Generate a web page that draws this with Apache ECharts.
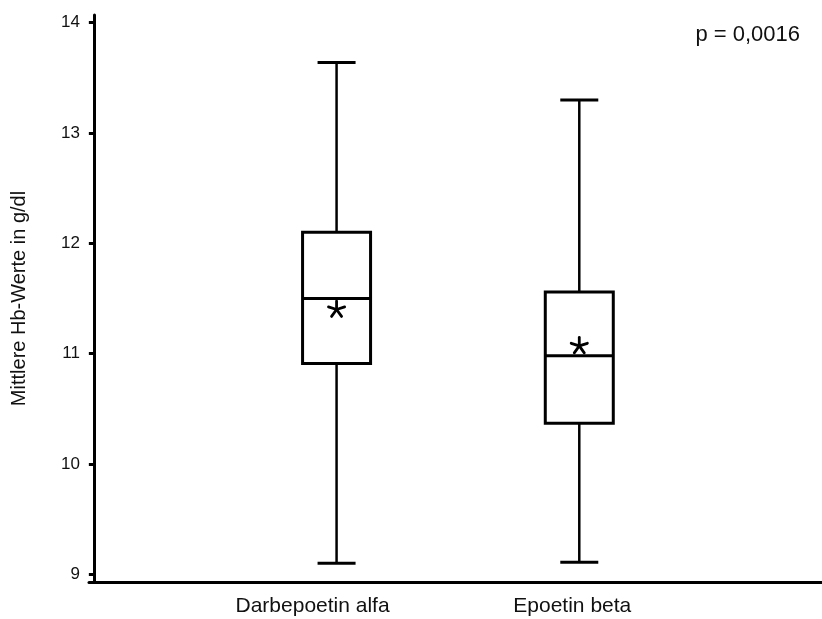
<!DOCTYPE html>
<html>
<head>
<meta charset="utf-8">
<script src="https://cdn.jsdelivr.net/npm/echarts@6/dist/echarts.min.js"></script>
<style>
html,body{margin:0;padding:0;background:#fff;}
#chart{width:822px;height:619px;}
</style>
</head>
<body>
<div id="chart"></div>
<script>
const categories = ['Darbepoetin alfa', 'Epoetin beta'];
const positions = [1, 2];
const minValues = [9.10, 9.11];
const q1Values = [10.91, 10.37];
const medianValues = [11.50, 10.98];
const q3Values = [12.10, 11.56];
const maxValues = [13.64, 13.30];
const meanValues = [11.40, 11.07];
const yTicks = [9, 10, 11, 12, 13, 14];
const pText = 'p = 0,0016';

const FONT = '"Liberation Sans", Arial, Helvetica, sans-serif';

const data = categories.map((c, i) => [positions[i], minValues[i], q1Values[i], medianValues[i], q3Values[i], maxValues[i], meanValues[i]]);

function renderItem(params, api) {
  const x = api.value(0);
  const pMin = api.coord([x, api.value(1)]);
  const pQ1 = api.coord([x, api.value(2)]);
  const pMed = api.coord([x, api.value(3)]);
  const pQ3 = api.coord([x, api.value(4)]);
  const pMax = api.coord([x, api.value(5)]);
  const pMean = api.coord([x, api.value(6)]);
  const cx = pMed[0];
  const hw = 34;   // half box width
  const cw = 19;   // half cap width
  const children = [
    { type: 'line', shape: { x1: cx, y1: pMax[1], x2: cx, y2: pQ3[1] }, style: { stroke: '#000', lineWidth: 2.5 } },
    { type: 'line', shape: { x1: cx, y1: pQ1[1], x2: cx, y2: pMin[1] }, style: { stroke: '#000', lineWidth: 2.5 } },
    { type: 'line', shape: { x1: cx - cw, y1: pMax[1], x2: cx + cw, y2: pMax[1] }, style: { stroke: '#000', lineWidth: 3 } },
    { type: 'line', shape: { x1: cx - cw, y1: pMin[1], x2: cx + cw, y2: pMin[1] }, style: { stroke: '#000', lineWidth: 3 } },
    { type: 'rect', shape: { x: cx - hw, y: pQ3[1], width: 2 * hw, height: pQ1[1] - pQ3[1] }, style: { stroke: '#000', lineWidth: 3, fill: '#fff' } },
    { type: 'line', shape: { x1: cx - hw, y1: pMed[1], x2: cx + hw, y2: pMed[1] }, style: { stroke: '#000', lineWidth: 3 } }
  ];
  // asterisk (5 arms) at mean
  const armLen = 8.5;
  for (let k = 0; k < 5; k++) {
    const ang = -Math.PI / 2 + k * 2 * Math.PI / 5;
    children.push({
      type: 'line',
      shape: { x1: pMean[0], y1: pMean[1], x2: pMean[0] + armLen * Math.cos(ang), y2: pMean[1] + armLen * Math.sin(ang) },
      style: { stroke: '#000', lineWidth: 2.8, lineCap: 'round' }
    });
  }
  return { type: 'group', children: children };
}

const chart = echarts.init(document.getElementById('chart'), null, { renderer: 'canvas' });
chart.setOption({
  animation: false,
  backgroundColor: '#fff',
  grid: { left: 89, right: 0, top: 15, bottom: 37, containLabel: false },
  xAxis: {
    type: 'value',
    min: -0.02,
    max: 3.0,
    splitLine: { show: false },
    axisLine: { show: true, onZero: false, lineStyle: { color: '#000', width: 3 } },
    axisTick: { show: false },
    axisLabel: {
      customValues: positions,
      formatter: function (v) {
        const i = positions.indexOf(v);
        return i >= 0 ? '{c' + i + '|' + categories[i] + '}' : '';
      },
      color: '#111', fontFamily: FONT, fontSize: 21, margin: 14,
      rich: {
        c0: { fontFamily: FONT, fontSize: 21, color: '#111', padding: [0, 48, 0, 0] },
        c1: { fontFamily: FONT, fontSize: 21, color: '#111', padding: [0, 14, 0, 0] }
      }
    }
  },
  yAxis: {
    type: 'value',
    min: 8.93,
    max: 14.07,
    name: 'Mittlere Hb-Werte in g/dl',
    nameLocation: 'middle',
    nameGap: 60,
    nameTextStyle: { color: '#111', fontFamily: FONT, fontSize: 20 },
    splitLine: { show: false },
    axisLine: { show: true, lineStyle: { color: '#000', width: 3 } },
    axisTick: { show: true, customValues: yTicks, length: 5, lineStyle: { color: '#000', width: 3 } },
    axisLabel: { customValues: yTicks, color: '#111', fontFamily: FONT, fontSize: 17, margin: 9 }
  },
  graphic: [{
    type: 'text', right: 22, top: 24,
    style: { text: pText, fill: '#111', font: '22px ' + FONT }
  }],
  series: [{
    type: 'custom',
    renderItem: renderItem,
    data: data,
    encode: { x: 0, y: [1, 2, 3, 4, 5] },
    clip: false
  }]
});
</script>
</body>
</html>
